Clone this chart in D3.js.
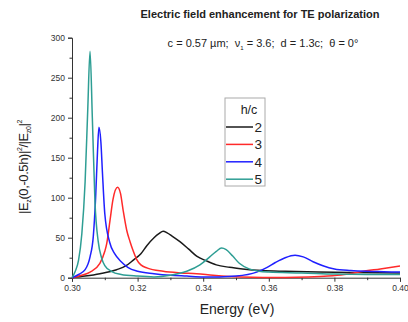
<!DOCTYPE html>
<html>
<head>
<meta charset="utf-8">
<script src="https://cdn.jsdelivr.net/npm/d3@7"></script>
<style>
  body { margin: 0; background: #fff; }
  svg { font-family: "Liberation Sans", Arial, sans-serif; }
</style>
</head>
<body>
<div id="chart"></div>
<script>
// Kurven: [Energie (eV), Wert]
const hc2 = [[0.300,0],[0.304,2],[0.3085,5],[0.3136,10],[0.3165,15],[0.3187,22],[0.321,30],[0.3228,40],
  [0.325,50],[0.3265,55],[0.3278,58],[0.329,56],[0.3305,52],[0.3329,45],[0.3355,36],[0.338,27],[0.341,21],
  [0.344,16],[0.348,13],[0.352,11],[0.358,9],[0.365,8],[0.375,7],[0.385,6.5],[0.400,6]];
const hc3 = [[0.300,0],[0.303,3],[0.3055,7],[0.3085,18],[0.310,33],[0.3106,43],[0.3116,72],[0.3125,98],
  [0.3139,113],[0.3148,105],[0.3156,84],[0.3167,59],[0.3177,45],[0.3187,33],[0.3197,23],[0.321,16],
  [0.323,12],[0.3278,8],[0.333,6],[0.338,5],[0.343,3],[0.348,1.5],[0.355,0.5],[0.365,0.3],[0.372,0.8],
  [0.378,2],[0.383,4],[0.388,7.5],[0.394,11],[0.400,14.5]];
const hc4 = [[0.300,0],[0.302,4],[0.304,10],[0.3055,26],[0.3065,52],[0.3072,100],[0.3078,160],[0.3082,188],
  [0.3088,170],[0.3093,130],[0.310,80],[0.3115,44],[0.313,30],[0.315,20],[0.317,13],[0.320,8],[0.325,5],
  [0.330,3],[0.335,2],[0.340,1],[0.345,1],[0.350,2],[0.3563,7],[0.3595,13],[0.362,19],[0.365,25],
  [0.368,28],[0.3705,26],[0.3735,20],[0.3765,15],[0.380,11],[0.385,9],[0.390,8],[0.395,7.5],[0.400,7]];
const hc5 = [[0.300,0],[0.301,8],[0.302,22],[0.303,55],[0.304,120],[0.3048,210],[0.3055,283],[0.3062,200],
  [0.307,95],[0.308,45],[0.309,25],[0.310,15],[0.312,8],[0.315,4],[0.320,2],[0.325,1],[0.330,3],[0.335,8],
  [0.339,16],[0.342,26],[0.344,33],[0.3456,37],[0.347,35],[0.349,27],[0.351,18],[0.354,11],[0.357,8],
  [0.360,7],[0.370,6],[0.380,4.5],[0.390,4],[0.400,4]];

const seriesNames = ['2', '3', '4', '5'];
const seriesData = [hc2, hc3, hc4, hc5];
const seriesColors = ['#1a1a1a', '#ff2a2a', '#2020ff', '#2e9e94'];

const xTicks = [0.30, 0.32, 0.34, 0.36, 0.38, 0.40];
const yTicks = [0, 50, 100, 150, 200, 250, 300];

const width = 408;
const height = 322;

const svg = d3.select("#chart").append("svg")
    .attr("width", width)
    .attr("height", height);

const x = d3.scaleLinear().domain([0.30, 0.40]).range([72, 400]);
const y = d3.scaleLinear().domain([0, 300]).range([277.7, 37.7]);

// Achsen
const xAxis = svg.append("g")
    .attr("transform", `translate(0,${y(0)})`)
    .call(d3.axisBottom(x).tickValues(xTicks).tickFormat(d3.format(".2f")).tickSize(4).tickPadding(3));
const xMinor = svg.append("g")
    .attr("transform", `translate(0,${y(0)})`)
    .call(d3.axisBottom(x).tickValues(d3.range(0.31, 0.40, 0.02)).tickFormat("").tickSize(2.5));
const yAxis = svg.append("g")
    .attr("transform", `translate(${x(0.30)},0)`)
    .call(d3.axisLeft(y).tickValues(yTicks).tickSize(4).tickPadding(3));
const yMinor = svg.append("g")
    .attr("transform", `translate(${x(0.30)},0)`)
    .call(d3.axisLeft(y).tickValues(d3.range(25, 300, 50)).tickFormat("").tickSize(2.5));

[xAxis, xMinor, yAxis, yMinor].forEach(g => {
    g.select(".domain").attr("stroke", "#333").attr("stroke-width", 1);
    g.selectAll(".tick line").attr("stroke", "#333");
    g.selectAll(".tick text").attr("fill", "#333").style("font-size", "8.5px");
});
xMinor.select(".domain").remove();
yMinor.select(".domain").remove();

// Kurven
const line = d3.line()
    .x(d => x(d[0]))
    .y(d => y(d[1]))
    .curve(d3.curveMonotoneX);

seriesData.forEach((data, i) => {
    svg.append("path")
        .datum(data)
        .attr("d", line)
        .attr("fill", "none")
        .attr("stroke", seriesColors[i])
        .attr("stroke-width", 1.5);
});

// Titel
svg.append("text")
    .attr("x", 260).attr("y", 18)
    .attr("text-anchor", "middle")
    .style("font-size", "11px")
    .style("font-weight", "bold")
    .attr("fill", "#222")
    .text("Electric field enhancement for TE polarization");

const sub = svg.append("text")
    .attr("x", 263).attr("y", 47)
    .attr("text-anchor", "middle")
    .style("font-size", "11px")
    .style("white-space", "pre")
    .attr("fill", "#222");
sub.append("tspan").text("c = 0.57 \u00b5m;  \u03bd");
sub.append("tspan").attr("dy", 3).style("font-size", "6px").text("1");
sub.append("tspan").attr("dy", -3).text(" = 3.6;  d = 1.3c;  \u03b8 = 0\u00b0");

// Achsentitel
svg.append("text")
    .attr("x", 237).attr("y", 314)
    .attr("text-anchor", "middle")
    .style("font-size", "14px")
    .attr("fill", "#222")
    .text("Energy (eV)");

const yl = svg.append("text")
    .attr("transform", "translate(28,167) rotate(-90)")
    .attr("text-anchor", "middle")
    .style("font-size", "13px")
    .style("letter-spacing", "-0.4px")
    .attr("fill", "#222");
yl.append("tspan").text("|E");
yl.append("tspan").attr("dy", 3).style("font-size", "7px").text("z");
yl.append("tspan").attr("dy", -3).text("(0,-0.5h)|");
yl.append("tspan").attr("dy", -6).style("font-size", "7px").text("2");
yl.append("tspan").attr("dy", 6).text("/|E");
yl.append("tspan").attr("dy", 3).style("font-size", "7px").text("z0");
yl.append("tspan").attr("dy", -3).text("|");
yl.append("tspan").attr("dy", -6).style("font-size", "7px").text("2");

// Legende
const legend = svg.append("g");
legend.append("rect")
    .attr("x", 225).attr("y", 98)
    .attr("width", 40).attr("height", 88)
    .attr("fill", "#fff")
    .attr("stroke", "#aaa");
legend.append("text")
    .attr("x", 249).attr("y", 114)
    .attr("text-anchor", "middle")
    .style("font-size", "12.5px")
    .attr("fill", "#222")
    .text("h/c");
seriesNames.forEach((name, i) => {
    const ly = 127 + i * 17.4;
    legend.append("line")
        .attr("x1", 226).attr("x2", 253)
        .attr("y1", ly).attr("y2", ly)
        .attr("stroke", seriesColors[i])
        .attr("stroke-width", 1.5);
    legend.append("text")
        .attr("x", 254.5).attr("y", ly + 5)
        .style("font-size", "13.5px")
        .attr("fill", "#222")
        .text(name);
});
</script>
</body>
</html>
